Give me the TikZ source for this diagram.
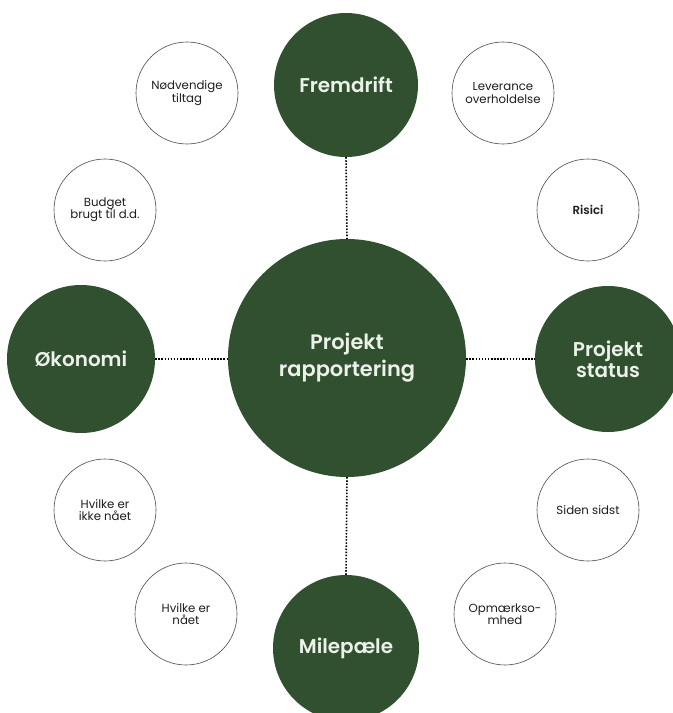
\documentclass[tikz,border=0pt]{standalone}
\usepackage{fontspec}
\setmainfont{Poppins}[BoldFont={* SemiBold}]
\definecolor{skovGroen}{RGB}{48,80,47}
\definecolor{lysTekst}{RGB}{236,241,234}
\definecolor{moerkTekst}{RGB}{30,30,30}
\begin{document}
\begin{tikzpicture}[x=1bp, y=-1bp,
	hovedEmne/.style={circle, fill=skovGroen, inner sep=0pt, text=lysTekst, align=center,
		font=\bfseries\fontsize{20}{21}\selectfont},
	delEmne/.style={circle, draw=moerkTekst!80, line width=0.6bp, fill=white, inner sep=0pt,
		minimum size=102bp, text=moerkTekst, align=center, font=\fontsize{11.8}{12.5}\selectfont},
	prikLinje/.style={line width=1.6bp, dash pattern=on 1.5bp off 1.6bp}]
	
	\clip (0,0) rectangle (673,713);
	
	%Nodes
	\node (projektRapportering) at (347,358) [hovedEmne, minimum size=238bp,
	font=\bfseries\fontsize{21}{27}\selectfont]{Projekt\\rapportering};
	
	%Hovedemner rundt om midten
	\node (fremdrift) at (346,85) [hovedEmne, minimum size=144bp]{Fremdrift};
	\node (oekonomi) at (81,359) [hovedEmne, minimum size=148bp]{Økonomi};
	\node (projektStatus) at (608,359) [hovedEmne, minimum size=146bp]{Projekt\\status};
	\node (milepaele) at (346,648) [hovedEmne, minimum size=146bp]{Milepæle};
	
	%Underemner
	\node (noedvendigeTiltag) at (187,93) [delEmne]{Nødvendige\\tiltag};
	\node (leveranceOverholdelse) at (503,93) [delEmne]{Leverance\\overholdelse};
	\node (budgetBrugt) at (105,210) [delEmne]{Budget\\brugt til d.d.};
	\node (risici) at (588,210) [delEmne, font=\bfseries\fontsize{11.8}{12.5}\selectfont]{Risici};
	\node (hvilkeIkkeNaaet) at (105,510) [delEmne]{Hvilke er\\ikke nået};
	\node (sidenSidst) at (588,510) [delEmne]{Siden sidst};
	\node (hvilkeNaaet) at (186,614) [delEmne]{Hvilke er\\nået};
	\node (opmaerksomhed) at (505,614) [delEmne]{Opmærkso-\\mhed};
	
	%Links
	\draw[prikLinje] (fremdrift.south) -- (projektRapportering.north);
	\draw[prikLinje] (oekonomi.east) -- (oekonomi.east -| projektRapportering.west);
	\draw[prikLinje] (projektStatus.west -| projektRapportering.east) -- (projektStatus.west);
	\draw[prikLinje] (projektRapportering.south) -- (milepaele.north);
	
\end{tikzpicture}
\end{document}
